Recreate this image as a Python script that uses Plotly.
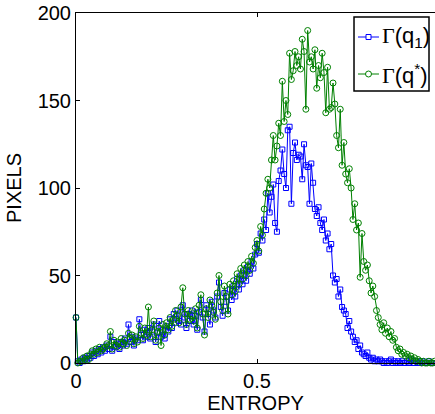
import plotly.graph_objects as go

# entropy bins
entropy = [round(i * 0.005, 3) for i in range(200)]

pixels_q1 = [
    26, 1, 0, 2, 1, 3, 2, 4, 3, 6,
    4, 7, 5, 8, 6, 9, 7, 10, 8, 15,
    7, 12, 9, 11, 8, 12, 10, 14, 11, 22,
    12, 15, 10, 14, 13, 25, 16, 13, 19, 15,
    20, 14, 18, 22, 12, 17, 24, 15, 19, 14,
    21, 18, 25, 20, 28, 23, 30, 24, 22, 33,
    26, 20, 28, 24, 30, 22, 27, 19, 29, 36,
    26, 18, 33, 28, 22, 35, 30, 26, 38, 46,
    32, 27, 40, 35, 30, 42, 36, 44, 38, 48,
    42, 50, 45, 53, 47, 55, 51, 58, 54, 62,
    68, 63, 74, 70, 82, 76, 97, 86, 95, 102,
    80, 75, 104, 110, 122, 108, 100, 133, 135, 91,
    120, 126, 116, 119, 118, 105, 125, 113, 112, 91,
    114, 103, 88, 84, 89, 80, 76, 82, 70, 74,
    65, 68, 50, 46, 48, 38, 42, 32, 30, 28,
    20, 24, 18, 15, 12, 13, 8, 10, 6, 5,
    4, 6, 3, 2, 3, 1, 2, 1, 2, 1,
    0, 1, 0, 1, 2, 0, 1, 0, 1, 0,
    1, 0, 0, 1, 0, 2, 0, 0, 1, 0,
    0, 1, 0, 0, 0, 1, 0, 0, 0, 0,
]

pixels_qstar = [
    26, 0, 1, 1, 3, 2, 4, 2, 5, 7,
    5, 8, 6, 9, 7, 8, 9, 11, 10, 18,
    8, 13, 10, 12, 9, 14, 11, 13, 10, 17,
    14, 16, 11, 15, 12, 21, 17, 14, 20, 16,
    32, 15, 19, 24, 13, 18, 20, 10, 22, 16,
    23, 19, 26, 21, 25, 30, 27, 23, 32, 43,
    28, 22, 30, 25, 27, 24, 31, 20, 33, 39,
    28, 16, 31, 26, 36, 33, 29, 25, 40, 50,
    35, 30, 44, 38, 28, 45, 39, 47, 41, 51,
    45, 54, 48, 56, 50, 58, 53, 61, 57, 66,
    70, 64, 78, 73, 88, 97, 105, 100, 116, 130,
    116, 124, 137, 130, 161, 138, 150, 142, 177, 162,
    167, 178, 170, 175, 168, 185, 178, 145, 190, 172,
    175, 168, 179, 157, 170, 163, 177, 166, 143, 169,
    145, 146, 160, 148, 130, 123, 145, 113, 126, 108,
    103, 111, 100, 82, 91, 76, 80, 49, 74, 58,
    53, 56, 47, 40, 44, 38, 30, 26, 22, 19,
    23, 17, 20, 15, 18, 13, 14, 9, 7, 8,
    5, 6, 4, 5, 3, 4, 2, 3, 1, 2,
    1, 0, 1, 0, 0, 1, 0, 0, 1, 0,
]

x_ticks = [0, 0.5, 1]
y_ticks = [0, 50, 100, 150, 200]

series_names = ["Γ(q<sub>1</sub>)", "Γ(q<sup>*</sup>)"]
series_colors = ["rgb(0,0,255)", "rgb(0,128,0)"]

FONT = "Liberation Sans, Arial, Helvetica, sans-serif"
SERIF = "Liberation Serif"

fig = go.Figure()
fig.add_trace(go.Scatter(
    x=entropy, y=pixels_q1, mode="lines+markers", name=series_names[0],
    line=dict(color=series_colors[0], width=1),
    marker=dict(symbol="square-open", size=5, color=series_colors[0],
                line=dict(width=1, color=series_colors[0])),
    cliponaxis=False, showlegend=False,
))
fig.add_trace(go.Scatter(
    x=entropy, y=pixels_qstar, mode="lines+markers", name=series_names[1],
    line=dict(color=series_colors[1], width=1),
    marker=dict(symbol="circle-open", size=6, color=series_colors[1],
                line=dict(width=1, color=series_colors[1])),
    cliponaxis=False, showlegend=False,
))

# manual MATLAB-style legend box (paper coordinates)
shapes = [dict(type="rect", xref="paper", yref="paper",
               x0=0.7744, x1=0.9833, y0=0.7771, y1=0.9886,
               line=dict(color="black", width=1.5), fillcolor="white", layer="above")]
annotations = []
rows_y = [0.9314, 0.8257]
marker_types = ["rect", "circle"]
marker_half = [2.5, 3]
for yy, col, mt, mh, nm in zip(rows_y, series_colors, marker_types, marker_half, series_names):
    shapes.append(dict(type="line", xref="paper", yref="paper",
                       x0=0.7855, x1=0.8440, y0=yy, y1=yy,
                       line=dict(color=col, width=1), layer="above"))
    shapes.append(dict(type=mt, xref="paper", yref="paper",
                       xsizemode="pixel", ysizemode="pixel",
                       xanchor=0.8148, yanchor=yy,
                       x0=-mh, x1=mh, y0=-mh, y1=mh,
                       line=dict(color=col, width=1), fillcolor="white", layer="above"))
    name_parts = nm.split("Γ", 1)
    annotations.append(dict(
        xref="paper", yref="paper", x=0.8470, y=yy, xanchor="left", yanchor="middle",
        showarrow=False,
        text="<span style=\"font-family:'" + SERIF + "'\">Γ</span>" + name_parts[1],
        font=dict(family=FONT, size=22, color="black"),
    ))

fig.update_layout(
    width=435, height=414,
    margin=dict(l=76, r=0, t=13, b=51),
    paper_bgcolor="white", plot_bgcolor="white",
    font=dict(family=FONT, size=20, color="black"),
    showlegend=False,
    shapes=shapes, annotations=annotations,
)
fig.update_xaxes(
    range=[0, 0.9917], tickvals=x_ticks, ticktext=["0", "0.5", "1"],
    showline=True, linecolor="black", linewidth=1, mirror="ticks",
    ticks="inside", ticklen=4, tickcolor="black",
    showgrid=False, zeroline=False,
    tickfont=dict(family=FONT, size=20, color="black"),
    title=dict(text="ENTROPY", font=dict(family=FONT, size=20, color="black"), standoff=0),
)
fig.update_yaxes(
    range=[0, 200], tickvals=y_ticks,
    showline=True, linecolor="black", linewidth=1, mirror=False,
    ticks="inside", ticklen=4, tickcolor="black",
    showgrid=False, zeroline=False,
    tickfont=dict(family=FONT, size=20, color="black"),
    title=dict(text="PIXELS", font=dict(family=FONT, size=20, color="black"), standoff=10),
)

fig.write_html("out.html")
